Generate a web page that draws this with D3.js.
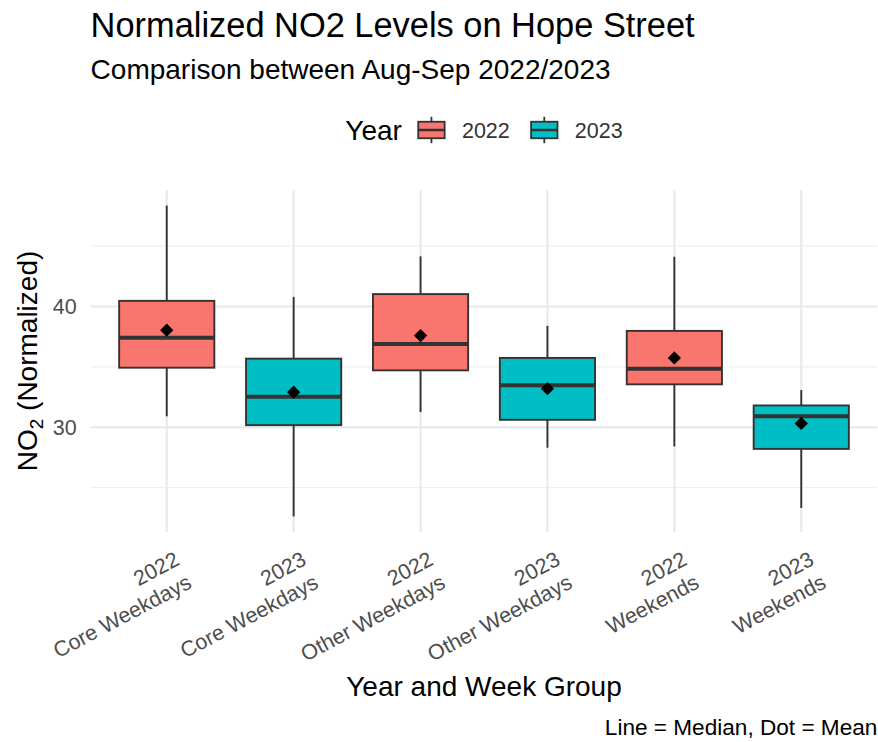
<!DOCTYPE html>
<html>
<head>
<meta charset="utf-8">
<script src="https://cdn.jsdelivr.net/npm/d3@7"></script>
<style>
  body { margin: 0; background: #fff; }
  text { font-family: "Liberation Sans", Arial, sans-serif; }
</style>
</head>
<body>
<div id="chart"></div>
<script>
// values
const years = ['2022', '2023', '2022', '2023', '2022', '2023'];
const groups = ['Core Weekdays', 'Core Weekdays', 'Other Weekdays', 'Other Weekdays', 'Weekends', 'Weekends'];
const whiskerLow = [30.9, 22.6, 31.25, 28.3, 28.4, 23.3];
const q1 = [34.93, 30.17, 34.71, 30.61, 33.55, 28.2];
const medians = [37.42, 32.52, 36.9, 33.47, 34.85, 30.91];
const q3 = [40.47, 35.68, 41.03, 35.74, 37.98, 31.8];
const whiskerHigh = [48.37, 40.8, 44.16, 38.4, 44.13, 33.08];
const means = [38.04, 32.9, 37.59, 33.19, 35.74, 30.31];
const yMajorTicks = [30, 40];
const yMinorTicks = [25, 35, 45];
const legendYears = ['2022', '2023'];
const yearColors = ['#F8766D', '#00BFC4'];

const W = 878, H = 742;
const panel = { left: 90.6, right: 877.4, top: 190, bottom: 532 };
const tickFont = '21.5px';

const svg = d3.select('#chart').append('svg')
    .attr('width', W)
    .attr('height', H);

const categories = years.map((y, i) => y + '|' + groups[i]);
const rows = categories.map((c, i) => ({
    cat: c, year: years[i], group: groups[i],
    lo: whiskerLow[i], q1: q1[i], med: medians[i], q3: q3[i], hi: whiskerHigh[i], mean: means[i]
}));

const color = d3.scaleOrdinal().domain(legendYears).range(yearColors);

const x = d3.scaleBand()
    .domain(categories)
    .range([panel.left, panel.right])
    .paddingInner(0)
    .paddingOuter(0.1);

const yMin = d3.min(whiskerLow), yMax = d3.max(whiskerHigh);
const pad = (yMax - yMin) * 0.05;
const y = d3.scaleLinear()
    .domain([yMin - pad, yMax + pad])
    .range([panel.bottom, panel.top]);

// grid
const grid = svg.append('g');
grid.selectAll('.minor').data(yMinorTicks).enter().append('line')
    .attr('x1', panel.left).attr('x2', panel.right)
    .attr('y1', d => y(d)).attr('y2', d => y(d))
    .attr('stroke', '#efefef').attr('stroke-width', 1.2);
grid.selectAll('.major').data(yMajorTicks).enter().append('line')
    .attr('x1', panel.left).attr('x2', panel.right)
    .attr('y1', d => y(d)).attr('y2', d => y(d))
    .attr('stroke', '#e8e8e8').attr('stroke-width', 2);
grid.selectAll('.vmajor').data(categories).enter().append('line')
    .attr('x1', d => x(d) + x.bandwidth() / 2).attr('x2', d => x(d) + x.bandwidth() / 2)
    .attr('y1', panel.top).attr('y2', panel.bottom)
    .attr('stroke', '#e8e8e8').attr('stroke-width', 2);

// boxes
const boxW = x.bandwidth() * 0.75;
const boxes = svg.append('g').selectAll('.box').data(rows).enter().append('g')
    .attr('transform', d => `translate(${x(d.cat) + x.bandwidth() / 2},0)`);
boxes.append('line')
    .attr('x1', 0).attr('x2', 0)
    .attr('y1', d => y(d.hi)).attr('y2', d => y(d.q3))
    .attr('stroke', '#333').attr('stroke-width', 1.9);
boxes.append('line')
    .attr('x1', 0).attr('x2', 0)
    .attr('y1', d => y(d.q1)).attr('y2', d => y(d.lo))
    .attr('stroke', '#333').attr('stroke-width', 1.9);
boxes.append('rect')
    .attr('x', -boxW / 2).attr('width', boxW)
    .attr('y', d => y(d.q3)).attr('height', d => y(d.q1) - y(d.q3))
    .attr('fill', d => color(d.year))
    .attr('stroke', '#333').attr('stroke-width', 1.9);
boxes.append('line')
    .attr('x1', -boxW / 2).attr('x2', boxW / 2)
    .attr('y1', d => y(d.med)).attr('y2', d => y(d.med))
    .attr('stroke', '#333').attr('stroke-width', 4);
boxes.append('path')
    .attr('d', d3.symbol(d3.symbolSquare, 88))
    .attr('transform', d => `translate(0,${y(d.mean)}) rotate(45)`)
    .attr('fill', '#000');

// y axis
const yAxis = svg.append('g')
    .attr('transform', `translate(${panel.left},0)`)
    .call(d3.axisLeft(y).tickValues(yMajorTicks).tickSize(0).tickPadding(14));
yAxis.select('.domain').remove();
yAxis.selectAll('text')
    .attr('fill', '#4d4d4d')
    .style('font-size', tickFont)
    .style('font-family', '"Liberation Sans", Arial, sans-serif');

// x axis with rotated two-line labels
const xAxis = svg.append('g')
    .attr('transform', `translate(0,${panel.bottom})`)
    .call(d3.axisBottom(x).tickSize(0));
xAxis.select('.domain').remove();
xAxis.selectAll('.tick text').remove();
xAxis.selectAll('.tick').each(function(d) {
    const parts = d.split('|');
    const t = d3.select(this).append('text')
        .attr('transform', 'translate(14,32) rotate(-28)')
        .attr('text-anchor', 'end')
        .attr('fill', '#4d4d4d')
        .style('font-size', tickFont)
        .style('font-family', '"Liberation Sans", Arial, sans-serif');
    t.append('tspan').attr('x', 0).attr('y', 0).text(parts[0]);
    t.append('tspan').attr('x', 0).attr('y', 26).text(parts[1]);
});

// axis titles
const yTitle = svg.append('text')
    .attr('transform', `translate(37,${(panel.top + panel.bottom) / 2}) rotate(-90)`)
    .attr('text-anchor', 'middle')
    .attr('fill', '#000')
    .style('font-size', '28px');
yTitle.append('tspan').text('NO');
yTitle.append('tspan').attr('dy', 6).style('font-size', '19px').text('2');
yTitle.append('tspan').attr('dy', -6).text(' (Normalized)');

svg.append('text')
    .attr('x', (panel.left + panel.right) / 2)
    .attr('y', 696)
    .attr('text-anchor', 'middle')
    .style('font-size', '28px')
    .text('Year and Week Group');

// titles
svg.append('text')
    .attr('x', panel.left).attr('y', 37)
    .style('font-size', '34.4px')
    .text('Normalized NO2 Levels on Hope Street');
svg.append('text')
    .attr('x', panel.left).attr('y', 79)
    .style('font-size', '28px')
    .text('Comparison between Aug-Sep 2022/2023');

// caption
svg.append('text')
    .attr('x', panel.right).attr('y', 735)
    .attr('text-anchor', 'end')
    .style('font-size', '22.6px')
    .text('Line = Median, Dot = Mean');

// legend
const legend = svg.append('g');
const keySize = 33;
const legendY = 130;
let lx = 0;
const lt = legend.append('text')
    .attr('x', lx).attr('y', legendY + 10)
    .style('font-size', '28px')
    .text('Year');
lx += lt.node().getComputedTextLength() + 13;
legendYears.forEach((yr, i) => {
    const k = legend.append('g').attr('transform', `translate(${lx + keySize / 2},${legendY})`);
    k.append('line').attr('x1', 0).attr('x2', 0)
        .attr('y1', -keySize * 0.4).attr('y2', keySize * 0.4)
        .attr('stroke', '#333').attr('stroke-width', 1.8);
    k.append('rect')
        .attr('x', -keySize * 0.4).attr('width', keySize * 0.8)
        .attr('y', -keySize * 0.25).attr('height', keySize * 0.5)
        .attr('fill', color(yr)).attr('stroke', '#333').attr('stroke-width', 1.8);
    k.append('line').attr('x1', -keySize * 0.4).attr('x2', keySize * 0.4)
        .attr('y1', 0).attr('y2', 0)
        .attr('stroke', '#333').attr('stroke-width', 2.5);
    lx += keySize + 14;
    const lab = legend.append('text')
        .attr('x', lx).attr('y', legendY + 8)
        .attr('fill', '#333')
        .style('font-size', tickFont)
        .text(yr);
    lx += lab.node().getComputedTextLength();
    if (i < legendYears.length - 1) lx += 18;
});
legend.attr('transform', `translate(${(panel.left + panel.right) / 2 - lx / 2},0)`);
</script>
</body>
</html>
